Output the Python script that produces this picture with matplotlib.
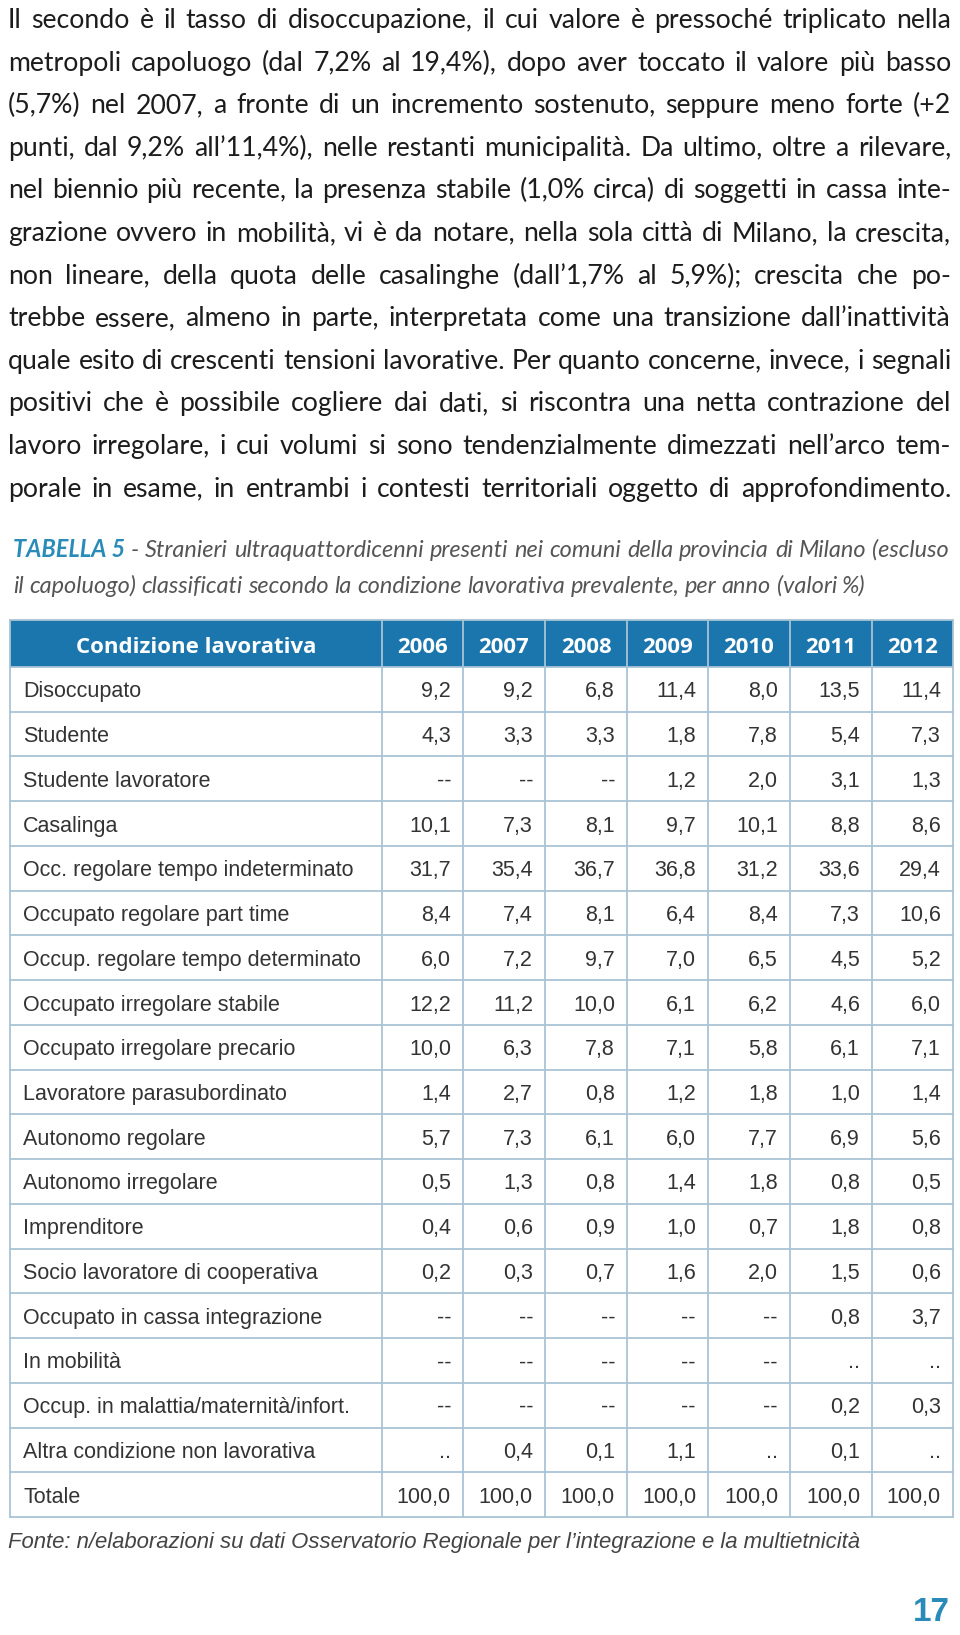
import matplotlib
matplotlib.use("Agg")
import matplotlib.pyplot as plt
from matplotlib.patches import Rectangle

# Paragraph lines (justified in the page)
paragraph = [
    "Il secondo è il tasso di disoccupazione, il cui valore è pressoché triplicato nella",
    "metropoli capoluogo (dal 7,2% al 19,4%), dopo aver toccato il valore più basso",
    "(5,7%) nel 2007, a fronte di un incremento sostenuto, seppure meno forte (+2",
    "punti, dal 9,2% all\u201911,4%), nelle restanti municipalità. Da ultimo, oltre a rilevare,",
    "nel biennio più recente, la presenza stabile (1,0% circa) di soggetti in cassa inte-",
    "grazione ovvero in mobilità, vi è da notare, nella sola città di Milano, la crescita,",
    "non lineare, della quota delle casalinghe (dall\u20191,7% al 5,9%); crescita che po-",
    "trebbe essere, almeno in parte, interpretata come una transizione dall\u2019inattività",
    "quale esito di crescenti tensioni lavorative. Per quanto concerne, invece, i segnali",
    "positivi che è possibile cogliere dai dati, si riscontra una netta contrazione del",
    "lavoro irregolare, i cui volumi si sono tendenzialmente dimezzati nell\u2019arco tem-",
    "porale in esame, in entrambi i contesti territoriali oggetto di approfondimento.",
]

caption_tag = "TABELLA 5"
caption_1 = "- Stranieri ultraquattordicenni presenti nei comuni della provincia di Milano (escluso"
caption_2 = "il capoluogo) classificati secondo la condizione lavorativa prevalente, per anno (valori %)"
source_note = "Fonte: n/elaborazioni su dati Osservatorio Regionale per l\u2019integrazione e la multietnicità"
page_number = "17"

header_label = "Condizione lavorativa"
years = ["2006", "2007", "2008", "2009", "2010", "2011", "2012"]

conditions = [
    "Disoccupato", "Studente", "Studente lavoratore", "Casalinga",
    "Occ. regolare tempo indeterminato", "Occupato regolare part time",
    "Occup. regolare tempo determinato", "Occupato irregolare stabile",
    "Occupato irregolare precario", "Lavoratore parasubordinato",
    "Autonomo regolare", "Autonomo irregolare", "Imprenditore",
    "Socio lavoratore di cooperativa", "Occupato in cassa integrazione",
    "In mobilità", "Occup. in malattia/maternità/infort.",
    "Altra condizione non lavorativa", "Totale",
]

v2006 = ["9,2", "4,3", "--", "10,1", "31,7", "8,4", "6,0", "12,2", "10,0", "1,4",
         "5,7", "0,5", "0,4", "0,2", "--", "--", "--", "..", "100,0"]
v2007 = ["9,2", "3,3", "--", "7,3", "35,4", "7,4", "7,2", "11,2", "6,3", "2,7",
         "7,3", "1,3", "0,6", "0,3", "--", "--", "--", "0,4", "100,0"]
v2008 = ["6,8", "3,3", "--", "8,1", "36,7", "8,1", "9,7", "10,0", "7,8", "0,8",
         "6,1", "0,8", "0,9", "0,7", "--", "--", "--", "0,1", "100,0"]
v2009 = ["11,4", "1,8", "1,2", "9,7", "36,8", "6,4", "7,0", "6,1", "7,1", "1,2",
         "6,0", "1,4", "1,0", "1,6", "--", "--", "--", "1,1", "100,0"]
v2010 = ["8,0", "7,8", "2,0", "10,1", "31,2", "8,4", "6,5", "6,2", "5,8", "1,8",
         "7,7", "1,8", "0,7", "2,0", "--", "--", "--", "..", "100,0"]
v2011 = ["13,5", "5,4", "3,1", "8,8", "33,6", "7,3", "4,5", "4,6", "6,1", "1,0",
         "6,9", "0,8", "1,8", "1,5", "0,8", "..", "0,2", "0,1", "100,0"]
v2012 = ["11,4", "7,3", "1,3", "8,6", "29,4", "10,6", "5,2", "6,0", "7,1", "1,4",
         "5,6", "0,5", "0,8", "0,6", "3,7", "..", "0,3", "..", "100,0"]
year_values = [v2006, v2007, v2008, v2009, v2010, v2011, v2012]

# styles
W, H = 960, 1635
text_font = ["Lato", "DejaVu Sans"]
narrow_font = ["Liberation Sans Narrow", "Liberation Sans", "DejaVu Sans"]
blue = "#1b76ad"
teal = "#2a8bb8"
grid_color = "#a9c4d4"

fig = plt.figure(figsize=(W / 100, H / 100), dpi=100)
ax = fig.add_axes([0, 0, 1, 1])
ax.set_xlim(0, W)
ax.set_ylim(H, 0)
ax.axis("off")
renderer = fig.canvas.get_renderer()


def measure(s, **st):
    t = ax.text(0, 0, s, **st)
    w = t.get_window_extent(renderer).width
    t.remove()
    return w


def justify(tokens, y, x0, x1, justify_line=True):
    # tokens: list of (word, style dict)
    texts = [ax.text(0, y, w, va="baseline", ha="left", **st) for w, st in tokens]
    widths = [t.get_window_extent(renderer).width for t in texts]
    space = measure("a a", **tokens[-1][1]) - measure("aa", **tokens[-1][1])
    if justify_line and len(texts) > 1:
        gap = (x1 - x0 - sum(widths)) / (len(texts) - 1)
    else:
        gap = space
    x = x0
    for t, w in zip(texts, widths):
        t.set_x(x)
        x += w + gap


# paragraph: font size fitted so the widest line fills the column
base = dict(family=text_font, color="#1c1c1c")
natural = max(measure(line, fontsize=10, **base) for line in paragraph)
body_style = dict(fontsize=10 * 941 / natural, **base)
for i, line in enumerate(paragraph):
    justify([(w, body_style) for w in line.split(" ")], 28 + i * 42.6, 8, 951)

# caption
cap_base = dict(family=text_font, style="italic")
nat = measure(caption_tag, fontsize=10, fontweight="bold", **cap_base) + \
    measure(" " + caption_1, fontsize=10, **cap_base)
cap_size = 10 * 932 / nat
tag_style = dict(fontsize=cap_size, color=teal, fontweight="bold", **cap_base)
cap_style = dict(fontsize=cap_size, color="#555555", **cap_base)
tokens = [(caption_tag, tag_style)] + [(w, cap_style) for w in caption_1.split(" ")]
justify(tokens, 557, 13, 949)
justify([(w, cap_style) for w in caption_2.split(" ")], 593, 13, 949, justify_line=False)

# table geometry
col_edges = [10, 382, 463, 545, 627, 708, 790, 872, 953]
table_top, header_bottom, table_bottom = 620, 667, 1517
row_h = (table_bottom - header_bottom) / len(conditions)

ax.add_patch(Rectangle((col_edges[0], table_top), col_edges[-1] - col_edges[0],
                       header_bottom - table_top, facecolor=blue, edgecolor="none"))
hy = (table_top + header_bottom) / 2 + 1
head_style = dict(fontsize=16, family=["Open Sans", "DejaVu Sans"], color="white",
                  fontweight="bold", va="center_baseline")
ax.text((col_edges[0] + col_edges[1]) / 2, hy, header_label, ha="center", **head_style)
for j, yr in enumerate(years):
    ax.text((col_edges[j + 1] + col_edges[j + 2]) / 2, hy, yr, ha="center", **head_style)

cell_style = dict(fontsize=15.5, family=narrow_font, color="#333333", va="center_baseline")
for i, cond in enumerate(conditions):
    yc = header_bottom + (i + 0.5) * row_h
    ax.text(23, yc, cond, ha="left", **cell_style)
    for j, vals in enumerate(year_values):
        ax.text(col_edges[j + 2] - 12, yc, vals[i], ha="right", **cell_style)

# grid lines
for i in range(len(conditions) + 1):
    y = header_bottom + i * row_h
    ax.plot([col_edges[0], col_edges[-1]], [y, y], color=grid_color, lw=1.3)
ax.plot([col_edges[0], col_edges[-1]], [table_top, table_top], color=grid_color, lw=1.3)
for x in col_edges:
    ax.plot([x, x], [table_top, table_bottom], color=grid_color, lw=1.3)

# source + page number
src_size = 10 * 860 / measure(source_note, fontsize=10, family=narrow_font, style="italic")
ax.text(8, 1548, source_note, fontsize=src_size, family=narrow_font, color="#444444",
        style="italic", va="baseline")
ax.text(950, 1621, page_number, fontsize=24, family=narrow_font, color=teal,
        fontweight="bold", ha="right", va="baseline")

fig.savefig("out.png", dpi=100)
